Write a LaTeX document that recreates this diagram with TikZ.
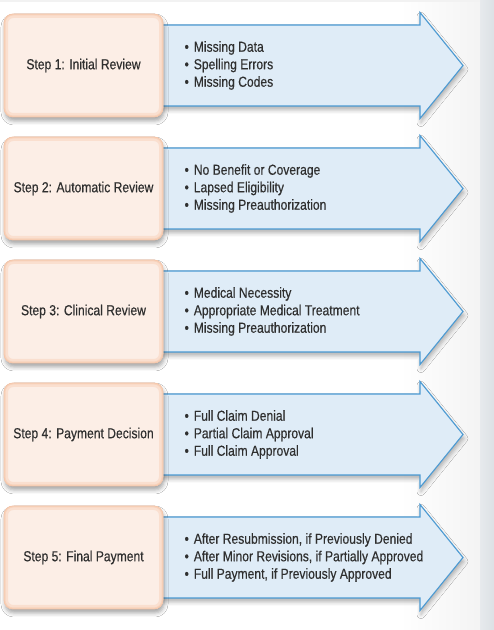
\documentclass[tikz,border=0pt]{standalone}
\usepackage{fontspec}
\setmainfont[FakeStretch=0.835, FakeBold=0.4]{Liberation Sans}
\usetikzlibrary{positioning}
\usetikzlibrary{backgrounds}
\usetikzlibrary{shadows.blur}
\definecolor{peach}{HTML}{FCEEE6}
\definecolor{peachglow}{HTML}{FADFCF}
\definecolor{peachedge}{HTML}{F5C6AA}
\definecolor{sky}{HTML}{DFECF7}
\definecolor{skyedge}{HTML}{4B9AD3}
\definecolor{ink}{HTML}{2F2F2F}
\definecolor{strip}{HTML}{DCE1E5}
\begin{document}
\begin{tikzpicture}[
			x=1pt, y=1pt,
			node distance=123pt,
			font=\fontsize{14.5pt}{17.5pt}\selectfont, text=ink,
			stage/.style={rectangle, rounded corners=9pt, minimum width=159pt, minimum height=103pt, text centered, fill=peach, draw=peachedge, line width=0.8pt,
				blur shadow={shadow xshift=1pt, shadow yshift=-4pt, shadow blur radius=4pt, shadow opacity=35},
				path picture={\draw[peachglow, line width=8pt, rounded corners=9pt] (path picture bounding box.south west) rectangle (path picture bounding box.north east);
					\draw[peachglow!50!peachedge, line width=3pt, rounded corners=9pt] (path picture bounding box.south west) rectangle (path picture bounding box.north east);}},
			checks/.style={rectangle, inner sep=0pt, align=left, anchor=west},
			pointer/.style={fill=sky, draw=skyedge, line width=1.1pt, line join=miter,
				blur shadow={shadow xshift=1pt, shadow yshift=-4pt, shadow blur radius=4pt, shadow opacity=30}},
			]
			\useasboundingbox (0,0) rectangle (494,630);
			
			\node[stage]         (s_1) at (83.5,564.5)          {Step 1: Initial Review};
			\node[stage]         (s_2) [below of=s_1]          {Step 2: Automatic Review};
			\node[stage]         (s_3) [below of=s_2]          {Step 3: Clinical Review};
			\node[stage]         (s_4) [below of=s_3]          {Step 4: Payment Decision};
			\node[stage]         (s_5) [below of=s_4]          {Step 5: Final Payment};
			
			\node[checks]        (l_1) [right=21pt of s_1]     {\textbullet\hspace{5pt}Missing Data\\ \textbullet\hspace{5pt}Spelling Errors\\ \textbullet\hspace{5pt}Missing Codes};
			\node[checks]        (l_2) [right=21pt of s_2]     {\textbullet\hspace{5pt}No Benefit or Coverage\\ \textbullet\hspace{5pt}Lapsed Eligibility\\ \textbullet\hspace{5pt}Missing Preauthorization};
			\node[checks]        (l_3) [right=21pt of s_3]     {\textbullet\hspace{5pt}Medical Necessity\\ \textbullet\hspace{5pt}Appropriate Medical Treatment\\ \textbullet\hspace{5pt}Missing Preauthorization};
			\node[checks]        (l_4) [right=21pt of s_4]     {\textbullet\hspace{5pt}Full Claim Denial\\ \textbullet\hspace{5pt}Partial Claim Approval\\ \textbullet\hspace{5pt}Full Claim Approval};
			\node[checks]        (l_5) [right=21pt of s_5]     {\textbullet\hspace{5pt}After Resubmission, if Previously Denied\\ \textbullet\hspace{5pt}After Minor Revisions, if Partially Approved\\ \textbullet\hspace{5pt}Full Payment, if Previously Approved};
			
			\begin{scope}[on background layer]
			% page and grey margin
			\fill[white] (0,0) rectangle (494,630);
			\shade[left color=white, right color=gray!9] (400,0) rectangle (480,630);
			\shade[left color=strip!70, right color=strip] (480,0) rectangle (494,630);
			\fill[gray!10] (0,628) rectangle (480,630);
			% arrows behind the lists
			\foreach \i in {1,...,5}
				\draw[pointer, shift={(s_\i)}] (76,40.5) -- (336.5,40.5) -- (336.5,53) -- (379.5,0) -- (336.5,-53) -- (336.5,-40.5) -- (76,-40.5) -- cycle;
			\end{scope}
			
			\end{tikzpicture}
\end{document}
